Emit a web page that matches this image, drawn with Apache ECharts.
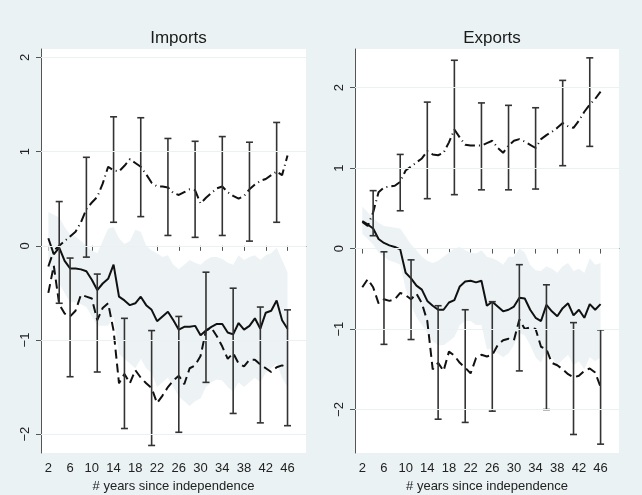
<!DOCTYPE html>
<html>
<head>
<meta charset="utf-8">
<script src="https://cdn.jsdelivr.net/npm/echarts@6/dist/echarts.min.js"></script>
<style>
html,body{margin:0;padding:0;background:#eaf2f3;}
#c{width:642px;height:495px;}
</style>
</head>
<body>
<div id="c"></div>
<script>
// ---------- DATA ----------
const years = [2,3,4,5,6,7,8,9,10,11,12,13,14,15,16,17,18,19,20,21,22,23,24,25,26,27,28,29,30,31,32,33,34,35,36,37,38,39,40,41,42,43,44,45,46];
const xTicks = [2,6,10,14,18,22,26,30,34,38,42,46];
const impYTicks = [-2,-1,0,1,2];
const expYTicks = [-2,-1,0,1,2];

// Imports
const impSolid = [0.08,-0.09,-0.02,-0.16,-0.24,-0.24,-0.25,-0.27,-0.36,-0.47,-0.40,-0.35,-0.20,-0.54,-0.58,-0.63,-0.61,-0.54,-0.63,-0.68,-0.80,-0.75,-0.70,-0.79,-0.89,-0.86,-0.86,-0.85,-0.95,-0.90,-0.86,-0.83,-0.83,-0.92,-0.94,-0.82,-0.89,-0.85,-0.77,-0.88,-0.71,-0.69,-0.58,-0.79,-0.88];
const impDash = [-0.50,-0.21,-0.62,-0.72,-0.75,-0.69,-0.52,-0.54,-0.56,-0.79,-0.66,-0.61,-0.90,-1.46,-1.36,-1.46,-1.32,-1.40,-1.46,-1.51,-1.67,-1.59,-1.50,-1.43,-1.38,-1.47,-1.30,-1.27,-1.17,-0.90,-0.87,-0.96,-1.07,-1.20,-1.14,-1.25,-1.28,-1.21,-1.21,-1.26,-1.30,-1.34,-1.29,-1.27,-1.29];
const impDashDot = [-0.22,-0.05,0.00,0.05,0.10,0.15,0.25,0.39,0.46,0.52,0.66,0.84,0.80,0.79,0.85,0.92,0.88,0.84,0.76,0.67,0.63,0.63,0.62,0.56,0.54,0.57,0.60,0.59,0.45,0.51,0.56,0.61,0.63,0.57,0.53,0.50,0.53,0.60,0.65,0.69,0.71,0.75,0.79,0.75,0.96];
const impBandLo = [-0.20,-0.35,-0.40,-0.50,-0.60,-0.60,-0.62,-0.65,-0.75,-0.85,-0.85,-0.85,-0.75,-1.15,-1.20,-1.25,-1.30,-1.20,-1.30,-1.35,-1.50,-1.45,-1.40,-1.50,-1.60,-1.65,-1.70,-1.65,-1.62,-1.50,-1.45,-1.42,-1.43,-1.50,-1.55,-1.45,-1.50,-1.45,-1.40,-1.45,-1.35,-1.30,-1.25,-1.40,-1.50];
const impBandHi = [0.36,0.33,0.30,0.20,0.12,0.10,0.05,0.00,-0.05,-0.08,0.05,0.18,0.20,0.08,0.02,0.05,0.17,0.15,0.00,-0.05,-0.08,-0.12,-0.10,-0.20,-0.25,-0.20,-0.15,-0.18,-0.20,-0.15,-0.12,-0.12,-0.14,-0.18,-0.20,-0.10,-0.15,-0.12,-0.10,-0.15,-0.10,-0.08,-0.02,-0.15,-0.28];
const impCiDDYears = [4,9,14,19,24,29,34,39,44];
const impCiDDLo = [-0.61,-0.12,0.25,0.31,0.11,0.09,0.11,0.05,0.25];
const impCiDDHi = [0.47,0.94,1.37,1.36,1.14,1.11,1.16,1.10,1.31];
const impCiDYears = [6,11,16,21,26,31,36,41,46];
const impCiDLo = [-1.39,-1.34,-1.94,-2.12,-1.98,-1.45,-1.78,-1.88,-1.91];
const impCiDHi = [-0.13,-0.30,-0.77,-0.90,-0.75,-0.28,-0.45,-0.65,-0.68];

// Exports
const expSolid = [0.34,0.30,0.25,0.12,0.07,0.04,0.02,-0.01,-0.30,-0.37,-0.46,-0.51,-0.65,-0.71,-0.76,-0.76,-0.67,-0.64,-0.47,-0.41,-0.40,-0.42,-0.40,-0.71,-0.66,-0.72,-0.78,-0.76,-0.72,-0.61,-0.62,-0.76,-0.86,-0.90,-0.70,-0.78,-0.84,-0.74,-0.68,-0.83,-0.76,-0.86,-0.69,-0.76,-0.69];
const expDash = [-0.48,-0.38,-0.48,-0.68,-0.63,-0.65,-0.63,-0.55,-0.58,-0.63,-0.56,-0.68,-0.90,-1.50,-1.42,-1.52,-1.28,-1.33,-1.42,-1.48,-1.55,-1.36,-1.32,-1.34,-1.32,-1.20,-1.14,-1.12,-1.14,-0.88,-1.00,-0.98,-1.00,-1.22,-1.25,-1.42,-1.45,-1.50,-1.56,-1.60,-1.58,-1.52,-1.49,-1.54,-1.72];
const expDashDot = [0.33,0.28,0.45,0.70,0.76,0.77,0.78,0.83,0.97,1.02,1.07,1.12,1.21,1.17,1.16,1.19,1.32,1.48,1.38,1.29,1.28,1.28,1.28,1.31,1.34,1.25,1.19,1.28,1.34,1.36,1.33,1.29,1.25,1.36,1.41,1.45,1.50,1.56,1.52,1.50,1.59,1.70,1.79,1.86,1.95];
const expBandLo = [0.18,0.12,0.05,-0.05,-0.10,-0.15,-0.17,-0.20,-0.50,-0.70,-0.85,-0.95,-1.05,-1.15,-1.20,-1.20,-1.15,-1.10,-0.95,-0.90,-0.90,-0.95,-0.95,-1.25,-1.25,-1.30,-1.35,-1.30,-1.20,-1.05,-1.08,-1.20,-1.35,-1.42,-1.25,-1.35,-1.45,-1.38,-1.32,-1.45,-1.40,-1.50,-1.35,-1.40,-1.35];
const expBandHi = [0.52,0.45,0.38,0.32,0.28,0.27,0.26,0.25,0.15,0.05,-0.02,-0.10,-0.15,-0.18,-0.15,-0.10,-0.05,0.00,0.02,-0.02,-0.05,-0.06,-0.02,-0.10,-0.12,-0.15,-0.20,-0.10,-0.10,0.00,-0.05,-0.20,-0.27,-0.28,-0.22,-0.25,-0.30,-0.22,-0.18,-0.28,-0.25,-0.30,-0.12,-0.20,-0.18];
const expCiDDYears = [4,9,14,19,24,29,34,39,44];
const expCiDDLo = [0.16,0.47,0.62,0.67,0.73,0.73,0.74,1.03,1.27];
const expCiDDHi = [0.72,1.17,1.82,2.34,1.81,1.78,1.75,2.09,2.37];
const expCiDYears = [6,11,16,21,26,31,36,41,46];
const expCiDLo = [-1.19,-1.13,-2.12,-2.16,-2.02,-1.52,-2.00,-2.31,-2.43];
const expCiDHi = [-0.04,-0.14,-0.71,-0.76,-0.66,-0.20,-0.45,-0.92,-1.01];

// ---------- CHART ----------
const FONT = 'Liberation Sans, Arial, sans-serif';
const chart = echarts.init(document.getElementById('c'), null, {renderer: 'canvas'});
const fmt = v => (v < 0 ? '\u2212' + Math.abs(v) : String(v));

function pairs(xs, ys) { return xs.map((x, i) => [x, ys[i]]); }
function triples(xs, a, b) { return xs.map((x, i) => [x, a[i], b[i]]); }

function xAxisFor(gi) {
  return {
    gridIndex: gi, type: 'value', min: 0.65, max: 49.4,
    name: '# years since independence', nameLocation: 'middle', nameGap: 25,
    nameTextStyle: {fontFamily: FONT, fontSize: 13, color: '#222'},
    axisLine: {show: true, lineStyle: {color: '#555', width: 1}},
    axisTick: {show: true, length: 5, customValues: xTicks, lineStyle: {color: '#555'}},
    axisLabel: {customValues: xTicks, fontFamily: FONT, fontSize: 13, color: '#222', margin: 9},
    splitLine: {show: false}
  };
}
function yAxisFor(gi, mn, mx, ticks) {
  return {
    gridIndex: gi, type: 'value', min: mn, max: mx,
    axisLine: {show: true, lineStyle: {color: '#555', width: 1}},
    axisTick: {show: true, length: 5, customValues: ticks, lineStyle: {color: '#555'}},
    axisLabel: {customValues: ticks, rotate: 90, fontFamily: FONT, fontSize: 13, color: '#222', margin: 9, formatter: fmt},
    splitLine: {show: false}
  };
}

function bandSeries(gi, lo, hi, ticks) {
  return {
    type: 'custom', xAxisIndex: gi, yAxisIndex: gi, z: 1, silent: true,
    data: triples(years, lo, hi),
    encode: {x: 0, y: [1, 2]},
    renderItem: (params, api) => {
      if (params.dataIndex !== 0) return null;
      const pts = [];
      for (let i = 0; i < years.length; i++) pts.push(api.coord([years[i], hi[i]]));
      for (let i = years.length - 1; i >= 0; i--) pts.push(api.coord([years[i], lo[i]]));
      return {type: 'polygon', shape: {points: pts}, style: {fill: '#edf3f5'}};
    },
    markLine: {
      silent: true, symbol: 'none', label: {show: false},
      lineStyle: {color: '#eaf1f2', width: 1, type: 'solid'},
      data: ticks.map(t => ({yAxis: t}))
    }
  };
}
function lineSeries(gi, vals, type, z) {
  return {
    type: 'line', xAxisIndex: gi, yAxisIndex: gi, z: z || 3,
    data: pairs(years, vals), showSymbol: false, silent: true,
    lineStyle: {color: '#111', width: 2, type: type}
  };
}
function errSeries(gi, xs, lo, hi) {
  return {
    type: 'custom', xAxisIndex: gi, yAxisIndex: gi, z: 4, silent: true,
    data: triples(xs, lo, hi),
    encode: {x: 0, y: [1, 2]},
    renderItem: (params, api) => {
      const x = api.value(0);
      const p1 = api.coord([x, api.value(2)]);
      const p2 = api.coord([x, api.value(1)]);
      const hw = 3.5;
      const st = {stroke: '#333', lineWidth: 1.6};
      return {type: 'group', children: [
        {type: 'line', shape: {x1: p1[0], y1: p1[1], x2: p2[0], y2: p2[1]}, style: st},
        {type: 'line', shape: {x1: p1[0] - hw, y1: p1[1], x2: p1[0] + hw, y2: p1[1]}, style: st},
        {type: 'line', shape: {x1: p2[0] - hw, y1: p2[1], x2: p2[0] + hw, y2: p2[1]}, style: st}
      ]};
    }
  };
}

const DASH = [9, 5];
const DASHDOT = [10, 4, 1, 4];

chart.setOption({
  backgroundColor: '#eaf2f3',
  animation: false,
  title: [
    {text: 'Imports', left: 173.5, top: 25, textAlign: 'center', textStyle: {fontFamily: FONT, fontSize: 17, fontWeight: 'normal', color: '#1a1a1a'}},
    {text: 'Exports', left: 487, top: 25, textAlign: 'center', textStyle: {fontFamily: FONT, fontSize: 17, fontWeight: 'normal', color: '#1a1a1a'}}
  ],
  grid: [
    {left: 41, top: 49, width: 265, height: 404, show: true, backgroundColor: '#ffffff', borderWidth: 0, outerBoundsMode: 'none', containLabel: false},
    {left: 355, top: 49, width: 264, height: 404, show: true, backgroundColor: '#ffffff', borderWidth: 0, outerBoundsMode: 'none', containLabel: false}
  ],
  xAxis: [xAxisFor(0), xAxisFor(1)],
  yAxis: [yAxisFor(0, -2.2, 2.09, impYTicks), yAxisFor(1, -2.54, 2.48, expYTicks)],
  series: [
    bandSeries(0, impBandLo, impBandHi, impYTicks),
    lineSeries(0, impSolid, 'solid'),
    lineSeries(0, impDash, DASH),
    lineSeries(0, impDashDot, DASHDOT),
    errSeries(0, impCiDDYears, impCiDDLo, impCiDDHi),
    errSeries(0, impCiDYears, impCiDLo, impCiDHi),
    bandSeries(1, expBandLo, expBandHi, expYTicks),
    lineSeries(1, expSolid, 'solid'),
    lineSeries(1, expDash, DASH),
    lineSeries(1, expDashDot, DASHDOT),
    errSeries(1, expCiDDYears, expCiDDLo, expCiDDHi),
    errSeries(1, expCiDYears, expCiDLo, expCiDHi)
  ]
});
</script>
</body>
</html>
